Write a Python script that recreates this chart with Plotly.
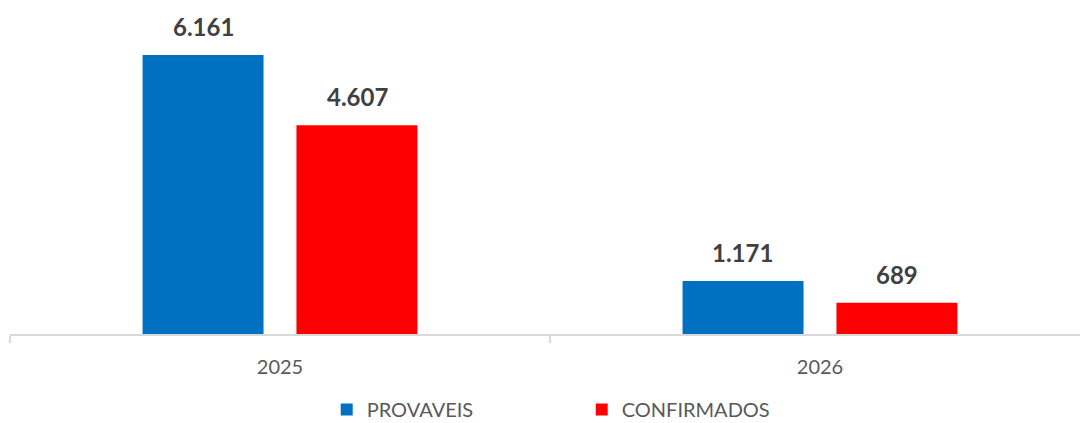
import plotly.graph_objects as go

categories = ["2025", "2026"]
provaveis = [6161, 1171]
confirmados = [4607, 689]
series_names = ["PROVAVEIS", "CONFIRMADOS"]
colors = ["#0070C0", "#FF0000"]

FONT = "Lato"

fig = go.Figure()
for name, vals, col in zip(series_names, [provaveis, confirmados], colors):
    fig.add_trace(go.Bar(
        x=categories, y=vals, name=name,
        marker=dict(color=col, line=dict(width=0)),
        hoverinfo="x+y",
    ))

# data labels (category index used for annotation position)
for vals, shift in zip([provaveis, confirmados], [-77, 77]):
    for i, v in enumerate(vals):
        fig.add_annotation(
            x=i, y=v, xref="x", yref="y",
            text="<b>" + f"{v:,}".replace(",", ".") + "</b>",
            showarrow=False, xshift=shift, yshift=12, yanchor="bottom",
            font=dict(family=FONT, size=24, color="#404040"),
        )

fig.update_layout(
    width=1080, height=423,
    margin=dict(l=10, r=0, t=0, b=89, autoexpand=False),
    paper_bgcolor="white", plot_bgcolor="white",
    barmode="group", bargap=0.43, bargroupgap=0.214,
    separators=",.",
    showlegend=True,
    legend=dict(
        orientation="h", x=0.296, xanchor="left", y=-0.226, yanchor="middle",
        font=dict(family=FONT, size=20, color="#595959"),
        itemwidth=30, entrywidth=210, traceorder="normal",
    ),
    xaxis=dict(
        type="category", range=[-0.5, 1.4815],
        showline=True, linecolor="#D9D9D9", linewidth=1.5,
        ticks="outside", tickson="boundaries", ticklen=7, tickcolor="#D9D9D9", tickwidth=1.5,
        tickfont=dict(family=FONT, size=20, color="#595959"),
        ticklabelstandoff=14,
        showgrid=False, zeroline=False, automargin=False,
    ),
    yaxis=dict(
        range=[0, 7375], visible=False, showgrid=False, zeroline=False,
    ),
)

fig.write_html("out.html")
